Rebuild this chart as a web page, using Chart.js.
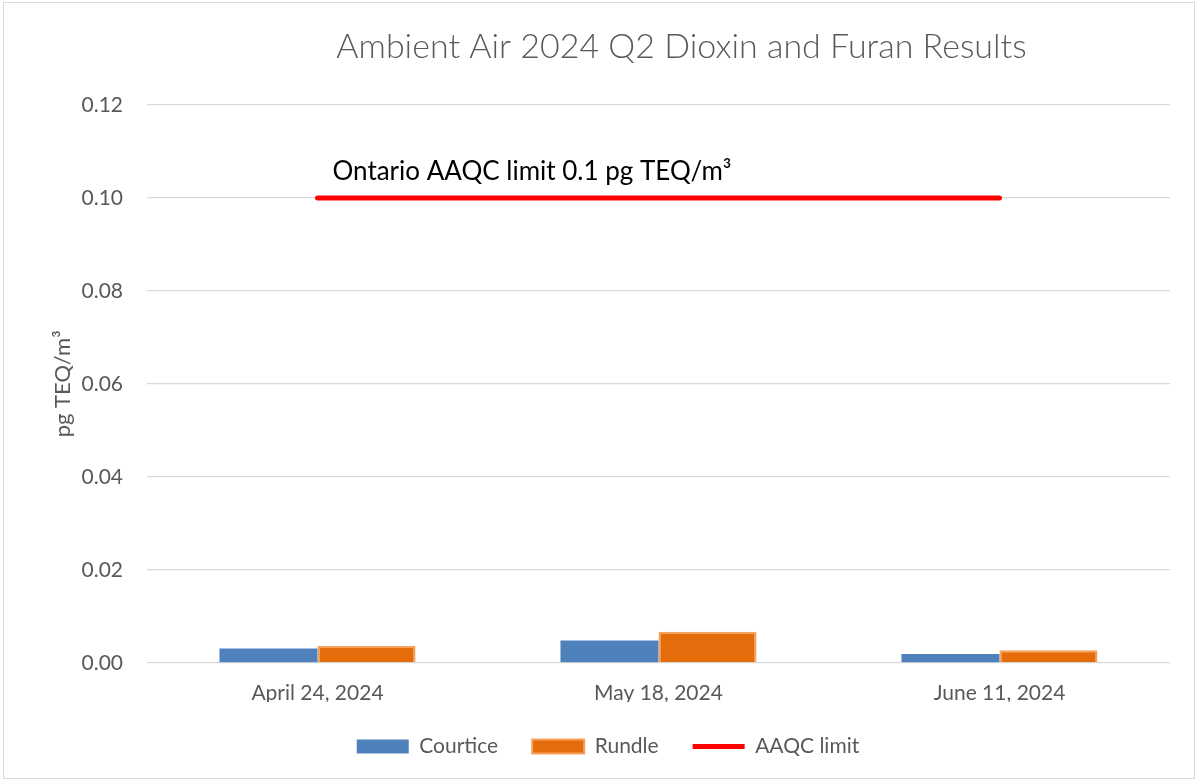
<!DOCTYPE html>
<html>
<head>
<meta charset="utf-8">
<script src="https://cdn.jsdelivr.net/npm/chart.js@4/dist/chart.umd.min.js"></script>
<style>
  html, body { margin: 0; padding: 0; background: #fff; }
  #chartContainer { position: relative; width: 1198px; height: 781px; }
  #frame { position: absolute; left: 3px; top: 2px; right: 3px; bottom: 2px; border: 1px solid #d9d9d9; pointer-events: none; }
</style>
</head>
<body>
<div id="chartContainer">
  <canvas id="myChart"></canvas>
  <div id="frame"></div>
</div>
<script>
// dades del grafic
const categories = ['April 24, 2024', 'May 18, 2024', 'June 11, 2024'];
const courtice = [0.0031, 0.0048, 0.0019];
const rundle = [0.0036, 0.0067, 0.0027];
const aaqcLimit = [0.1, 0.1, 0.1];
const yTicks = [0, 0.02, 0.04, 0.06, 0.08, 0.10, 0.12];
const titleText = 'Ambient Air 2024 Q2 Dioxin and Furan Results';
const limitText = 'Ontario AAQC limit 0.1 pg TEQ/m³';

const fontName = 'Lato';
const grey = '#595959';

// titol i text de la linia limit
const chartTexts = {
    id: 'chartTexts',
    afterDatasetsDraw(chart) {
        const ctx = chart.ctx;
        const area = chart.chartArea;
        ctx.save();
        // titol, una mica desplaçat a la dreta com a l'original
        ctx.font = '300 34px ' + fontName;
        ctx.fillStyle = grey;
        ctx.textAlign = 'center';
        ctx.textBaseline = 'middle';
        ctx.fillText(titleText, (area.left + area.right) / 2 + 23, 47);
        // etiqueta del limit
        const x = chart.scales.x.getPixelForValue(0) + 15;
        const y = chart.scales.y.getPixelForValue(aaqcLimit[0]) - 18;
        ctx.font = '26px ' + fontName;
        ctx.fillStyle = '#000000';
        ctx.textAlign = 'left';
        ctx.textBaseline = 'alphabetic';
        ctx.fillText(limitText, x, y);
        ctx.restore();
    }
};

const ctx = document.getElementById('myChart').getContext('2d');
new Chart(ctx, {
    data: {
        labels: categories,
        datasets: [{
            type: 'bar',
            label: 'Courtice',
            data: courtice,
            backgroundColor: '#4F81BD',
            borderColor: '#4F81BD',
            borderWidth: 0,
            categoryPercentage: 0.575,
            barPercentage: 1.0
        }, {
            type: 'bar',
            label: 'Rundle',
            data: rundle,
            backgroundColor: '#E46C0A',
            borderColor: '#F7A15E',
            borderWidth: 2,
            categoryPercentage: 0.575,
            barPercentage: 1.0
        }, {
            type: 'line',
            label: 'AAQC limit',
            data: aaqcLimit,
            borderColor: '#FF0000',
            backgroundColor: '#FF0000',
            borderWidth: 5,
            borderCapStyle: 'round',
            pointRadius: 0,
            pointHoverRadius: 0,
            fill: false
        }]
    },
    options: {
        responsive: true,
        maintainAspectRatio: false,
        animation: false,
        layout: { padding: { left: 46, right: 28, top: 105, bottom: 14 } },
        plugins: {
            title: { display: false },
            legend: {
                position: 'bottom',
                labels: {
                    color: grey,
                    font: { family: fontName, size: 21 },
                    usePointStyle: true,
                    pointStyleWidth: 52,
                    boxHeight: 14,
                    padding: 34,
                    generateLabels(chart) {
                        const items = Chart.defaults.plugins.legend.labels.generateLabels(chart);
                        items.forEach(item => {
                            const ds = chart.data.datasets[item.datasetIndex];
                            item.pointStyle = ds.type === 'line' ? 'line' : 'rect';
                        });
                        return items;
                    }
                }
            },
            tooltip: { enabled: false }
        },
        scales: {
            x: {
                afterFit(scale) { scale.height -= 22; },
                grid: { display: false, drawTicks: false },
                border: { display: false },
                ticks: { color: grey, font: { family: fontName, size: 21 }, padding: 18 }
            },
            y: {
                min: 0,
                max: 0.12,
                afterFit(scale) { scale.width = 101; },
                afterBuildTicks(scale) { scale.ticks = yTicks.map(v => ({ value: v })); },
                grid: { color: '#d9d9d9', lineWidth: 1.3, drawTicks: false },
                border: { display: false },
                ticks: {
                    color: grey,
                    font: { family: fontName, size: 21 },
                    padding: 24,
                    callback: v => Number(v).toFixed(2)
                },
                title: {
                    display: true,
                    text: 'pg TEQ/m³',
                    color: grey,
                    font: { family: fontName, size: 22 },
                    padding: { top: 4, bottom: 0 }
                }
            }
        }
    },
    plugins: [chartTexts]
});
</script>
</body>
</html>
